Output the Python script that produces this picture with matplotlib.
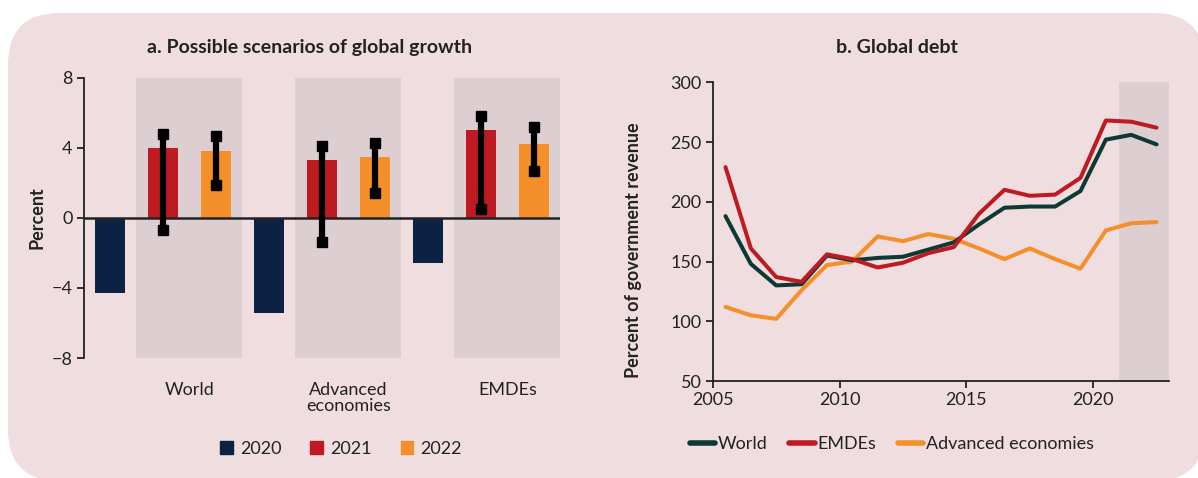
import matplotlib
matplotlib.use("Agg")
import matplotlib.pyplot as plt
import matplotlib.patches as mpatches
from matplotlib.lines import Line2D
from matplotlib.transforms import IdentityTransform

plt.rcParams['font.family'] = ['Lato', 'DejaVu Sans']

# panel a: growth scenarios
groups = ['World', 'Advanced\neconomies', 'EMDEs']
years = ['2020', '2021', '2022']
g2020 = [-4.3, -5.4, -2.6]
g2021 = [4.0, 3.3, 5.0]
g2022 = [3.8, 3.5, 4.2]
lo2021 = [-0.7, -1.4, 0.5]
hi2021 = [4.8, 4.1, 5.8]
lo2022 = [1.9, 1.4, 2.7]
hi2022 = [4.7, 4.3, 5.2]

# panel b: global debt
debt_years = [2005.5 + i for i in range(18)]
world = [188, 148, 130, 131, 155, 151, 153, 154, 160, 166, 181, 195, 196, 196, 209, 252, 256, 248]
emdes = [229, 161, 137, 133, 156, 152, 145, 149, 157, 162, 190, 210, 205, 206, 220, 268, 267, 262]
adv = [112, 105, 102, 126, 147, 150, 171, 167, 173, 169, 161, 152, 161, 152, 144, 176, 182, 183]

bg = '#efdde0'
band = '#ddcfd1'
navy = '#0c2244'
red = '#be1a22'
orange = '#f58f2a'
green = '#0c3a33'
txt = '#222222'
fs = 13

fig = plt.figure(figsize=(11.98, 4.78), dpi=100)
fig.patch.set_facecolor('white')
panel = mpatches.FancyBboxPatch((8, -3), 1197, 468,
                                boxstyle="round,pad=0,rounding_size=52",
                                transform=IdentityTransform(),
                                facecolor=bg, edgecolor='none', zorder=-10)
fig.patches.append(panel)

# ---- left chart
ax1 = fig.add_axes([0.0697, 0.251, 0.398, 0.586])
ax1.set_facecolor('none')
for i in range(3):
    ax1.axvspan(3 * i + 0.5, 3 * i + 2.5, color=band, lw=0, zorder=0)
w = 0.57
for i in range(3):
    ax1.bar(3 * i, g2020[i], w, color=navy, zorder=2)
    ax1.bar(3 * i + 1, g2021[i], w, color=red, zorder=2)
    ax1.bar(3 * i + 2, g2022[i], w, color=orange, zorder=2)
    ax1.plot([3 * i + 1] * 2, [lo2021[i], hi2021[i]], color='black', lw=4.5,
             marker='s', ms=7.5, zorder=4)
    ax1.plot([3 * i + 2] * 2, [lo2022[i], hi2022[i]], color='black', lw=4.5,
             marker='s', ms=7.5, zorder=4)
ax1.axhline(0, color=txt, lw=1.8, zorder=3)
ax1.set_xlim(-0.5, 8.5)
ax1.set_ylim(-8, 8)
ax1.set_yticks([-8, -4, 0, 4, 8])
ax1.set_xticks([])
for s in ['top', 'right', 'bottom']:
    ax1.spines[s].set_visible(False)
ax1.spines['left'].set_color(txt)
ax1.spines['left'].set_linewidth(1.3)
ax1.tick_params(axis='y', direction='out', length=5, width=1.3, colors=txt,
                labelsize=fs, pad=3)
for i, g in enumerate(groups):
    ax1.annotate(g, (3 * i + 1.5, -8), xytext=(0, -17), textcoords='offset points',
                 ha='center', va='top', fontsize=fs, color=txt,
                 linespacing=1.05, annotation_clip=False)
fig.text(37 / 1198, 1 - 218 / 478, 'Percent', rotation=90, ha='center',
         va='center', fontsize=fs, fontweight='bold', color=txt)
fig.text(310 / 1198, 1 - 47 / 478, 'a. Possible scenarios of global growth',
         ha='center', va='center', fontsize=14, fontweight='bold', color=txt)
h1 = [mpatches.Patch(color=c) for c in [navy, red, orange]]
fig.legend(h1, years, loc='center', bbox_to_anchor=(341 / 1198, 1 - 449 / 478),
           ncol=3, frameon=False, fontsize=fs, handlelength=0.7,
           handleheight=0.7, columnspacing=1.6, handletextpad=0.4,
           labelcolor=txt)

# ---- right chart
ax2 = fig.add_axes([0.595, 0.2029, 0.381, 0.625])
ax2.set_facecolor('none')
ax2.axvspan(2021, 2023, color=band, lw=0, zorder=0)
ax2.plot(debt_years, adv, color=orange, lw=2.9, zorder=2, solid_capstyle='round')
ax2.plot(debt_years, world, color=green, lw=2.9, zorder=3, solid_capstyle='round')
ax2.plot(debt_years, emdes, color=red, lw=2.9, zorder=3, solid_capstyle='round')
ax2.set_xlim(2005, 2023)
ax2.set_ylim(50, 300)
ax2.set_xticks([2005, 2010, 2015, 2020])
ax2.set_yticks([50, 100, 150, 200, 250, 300])
for s in ['top', 'right']:
    ax2.spines[s].set_visible(False)
for s in ['left', 'bottom']:
    ax2.spines[s].set_color(txt)
    ax2.spines[s].set_linewidth(1.3)
ax2.tick_params(direction='out', length=5, width=1.3, colors=txt,
                labelsize=fs, pad=3)
fig.text(634 / 1198, 1 - 250 / 478, 'Percent of government revenue',
         rotation=90, ha='center', va='center', fontsize=fs,
         fontweight='bold', color=txt)
fig.text(897 / 1198, 1 - 47 / 478, 'b. Global debt', ha='center', va='center',
         fontsize=14, fontweight='bold', color=txt)
h2 = [Line2D([], [], color=c, lw=4, solid_capstyle='round') for c in [green, red, orange]]
fig.legend(h2, ['World', 'EMDEs', 'Advanced economies'], loc='center',
           bbox_to_anchor=(892 / 1198, 1 - 444 / 478), ncol=3, frameon=False,
           fontsize=fs, handlelength=1.4, columnspacing=1.2,
           handletextpad=0.15, labelcolor=txt)

fig.savefig('out.png', dpi=100, facecolor=fig.get_facecolor())
